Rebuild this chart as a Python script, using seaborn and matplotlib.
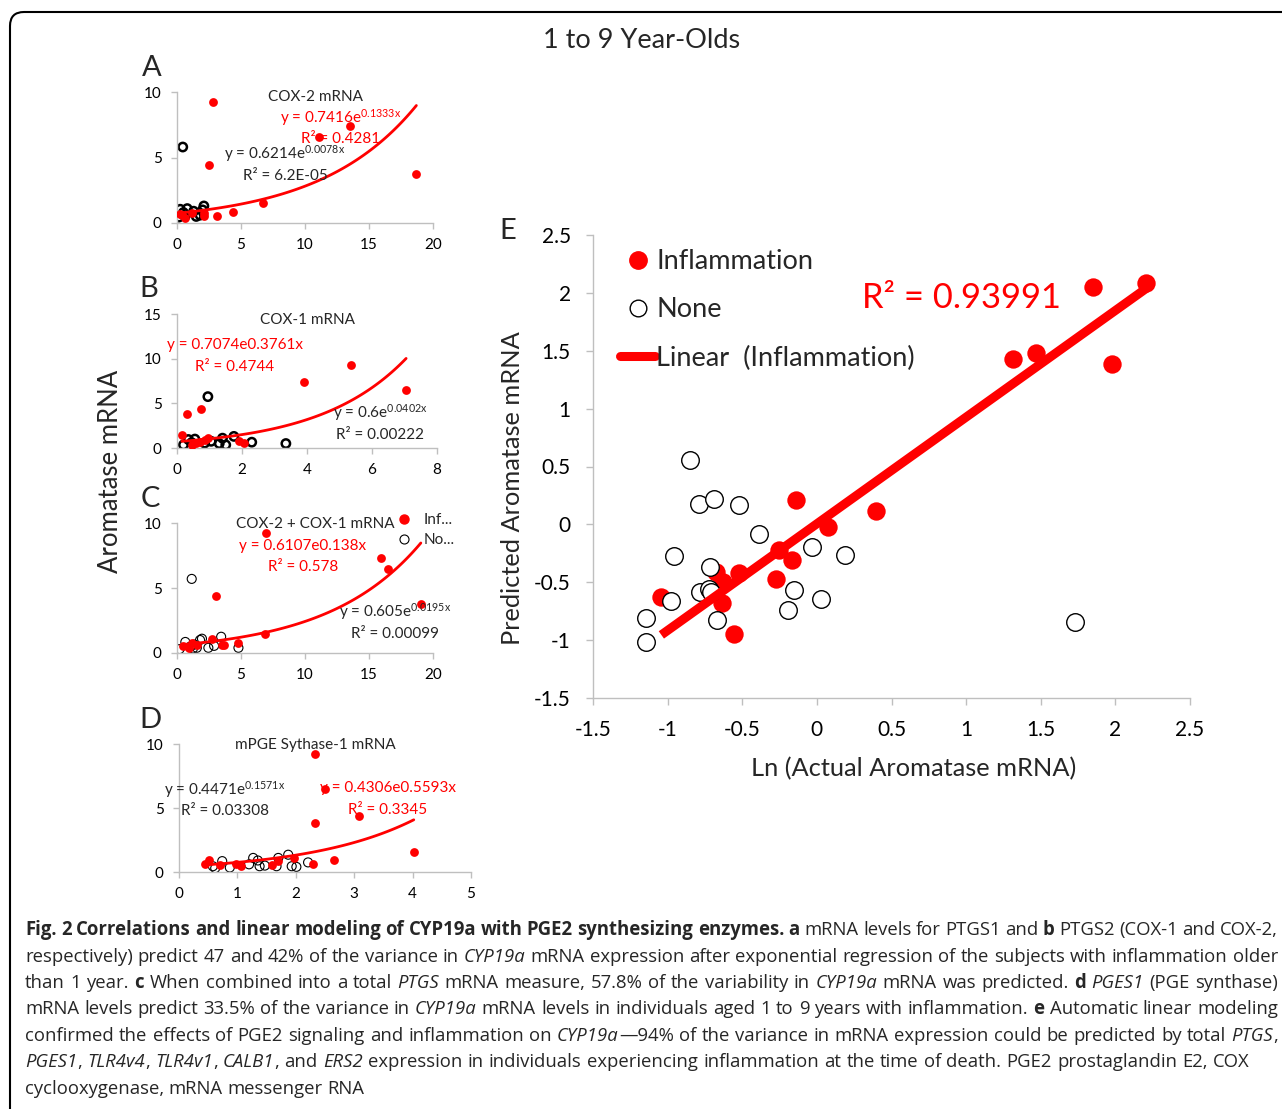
import numpy as np
import pandas as pd
import matplotlib
matplotlib.use("Agg")
import matplotlib.pyplot as plt
import seaborn as sns
from matplotlib.lines import Line2D
from matplotlib.patches import FancyBboxPatch
from matplotlib.transforms import IdentityTransform

# ---------------- data ----------------
A_inf_x = [2.8, 13.5, 11.1, 18.7, 2.5, 6.7, 4.4, 3.1, 0.4, 0.65, 1.2, 2.1, 2.1, 0.2]
A_inf_y = [9.2, 7.4, 6.55, 3.75, 4.4, 1.55, 0.85, 0.5, 0.6, 0.35, 0.75, 0.8, 0.5, 0.7]
A_non_x = [0.45, 0.25, 0.8, 0.65, 1.8, 2.1, 0.15, 1.3, 2.0, 0.5, 1.5]
A_non_y = [5.8, 1.05, 1.1, 0.55, 0.6, 1.3, 0.45, 0.9, 1.0, 0.8, 0.5]

B_inf_x = [0.15, 0.3, 0.75, 3.9, 5.35, 7.05, 0.95, 1.9, 2.05, 0.45, 0.6, 0.85, 0.7]
B_inf_y = [1.5, 3.8, 4.4, 7.35, 9.25, 6.5, 1.1, 0.75, 0.55, 0.35, 0.55, 0.9, 0.7]
B_non_x = [0.95, 0.2, 0.35, 0.55, 0.85, 1.3, 1.4, 1.5, 1.75, 2.3, 3.35, 1.05, 0.45]
B_non_y = [5.75, 0.35, 0.95, 1.0, 0.55, 0.5, 1.1, 0.35, 1.3, 0.65, 0.5, 0.75, 0.6]

C_inf_x = [6.95, 3.05, 15.9, 16.5, 19.05, 6.85, 4.8, 2.7, 3.5, 3.7, 0.5, 0.9, 1.55, 1.15]
C_inf_y = [9.2, 4.4, 7.3, 6.5, 3.8, 1.5, 0.8, 1.1, 0.65, 0.6, 0.55, 0.4, 0.65, 0.75]
C_non_x = [1.15, 0.2, 0.65, 1.35, 1.8, 1.95, 2.45, 2.9, 3.45, 4.8, 1.05, 1.55, 1.25]
C_non_y = [5.7, 0.3, 0.85, 0.65, 1.0, 1.1, 0.4, 0.55, 1.25, 0.4, 0.5, 0.4, 0.35]

D_inf_x = [2.33, 2.5, 3.08, 2.33, 4.02, 2.65, 2.3, 0.45, 0.52, 0.7, 0.98, 1.07, 1.6, 1.7, 1.97]
D_inf_y = [9.25, 6.5, 4.4, 3.8, 1.55, 0.9, 0.65, 0.6, 0.9, 0.55, 0.6, 0.45, 0.55, 0.85, 1.1]
D_non_x = [0.58, 0.74, 0.87, 1.2, 1.27, 1.35, 1.38, 1.47, 1.67, 1.7, 1.87, 1.93, 2.01, 2.21, 0.62]
D_non_y = [0.45, 0.85, 0.35, 0.6, 1.1, 0.9, 0.45, 0.5, 0.45, 1.1, 1.35, 0.45, 0.4, 0.75, 0.3]

# exponential trendline coefficients (y = a * e^(b x)) for inflammation group
A_fit = (0.7416, 0.1333)
B_fit = (0.7074, 0.3761)
C_fit = (0.6107, 0.138)
D_fit = (0.4306, 0.5593)

E_inf_x = [-0.142, 0.076, -0.253, -0.169, -0.271, -0.52, -0.675, -0.63, -0.636, -1.042,
           -0.558, 0.398, 1.853, 2.207, 1.313, 1.469, 1.98]
E_inf_y = [0.208, -0.023, -0.225, -0.312, -0.468, -0.421, -0.41, -0.50, -0.678, -0.629,
           -0.947, 0.113, 2.055, 2.089, 1.426, 1.478, 1.385]
E_non_x = [-0.848, -0.79, -0.687, -0.525, -0.391, -0.955, -0.718, -0.78, -0.72, -0.71,
           -0.98, -1.147, -1.147, -0.667, -0.153, -0.191, 0.027, -0.036, 0.189, 1.729]
E_non_y = [0.554, 0.18, 0.22, 0.17, -0.084, -0.277, -0.364, -0.586, -0.557, -0.586,
           -0.664, -0.805, -1.02, -0.828, -0.569, -0.742, -0.649, -0.193, -0.265, -0.846]

TITLE = "1 to 9 Year-Olds"
PANEL_TITLES = ["COX-2 mRNA", "COX-1 mRNA", "COX-2 + COX-1 mRNA", "mPGE Sythase-1 mRNA"]

CAPTION = [
    [("Fig. 2 Correlations and linear modeling of CYP19a with PGE2 synthesizing enzymes. a", "b"),
     (" mRNA levels for PTGS1 and ", "n"), ("b", "b"), (" PTGS2 (COX-1 and COX-2,", "n")],
    [("respectively) predict 47 and 42% of the variance in ", "n"), ("CYP19a", "i"),
     (" mRNA expression after exponential regression of the subjects with inflammation older", "n")],
    [("than 1 year. ", "n"), ("c", "b"), (" When combined into a total ", "n"), ("PTGS", "i"),
     (" mRNA measure, 57.8% of the variability in ", "n"), ("CYP19a", "i"),
     (" mRNA was predicted. ", "n"), ("d", "b"), (" ", "n"), ("PGES1", "i"), (" (PGE synthase)", "n")],
    [("mRNA levels predict 33.5% of the variance in ", "n"), ("CYP19a", "i"),
     (" mRNA levels in individuals aged 1 to 9 years with inflammation. ", "n"), ("e", "b"),
     (" Automatic linear modeling", "n")],
    [("confirmed the effects of PGE2 signaling and inflammation on ", "n"), ("CYP19a", "i"),
     ("\u201494% of the variance in mRNA expression could be predicted by total ", "n"), ("PTGS", "i"), (",", "n")],
    [("PGES1", "i"), (", ", "n"), ("TLR4v4", "i"), (", ", "n"), ("TLR4v1", "i"), (", ", "n"),
     ("CALB1", "i"), (", and ", "n"), ("ERS2", "i"),
     (" expression in individuals experiencing inflammation at the time of death. PGE2 prostaglandin E2, COX", "n")],
    [("cyclooxygenase, mRNA messenger RNA", "n")],
]

# ---------------- style ----------------
sns.set_theme(style="white")
CH = "Lato"
CAP = "Open Sans"
plt.rcParams['font.family'] = [CH, 'DejaVu Sans']
plt.rcParams['mathtext.fontset'] = 'custom'
plt.rcParams['mathtext.rm'] = CH
plt.rcParams['mathtext.it'] = CH
RED = "#FF0000"
GRAY = "#BFBFBF"
SFS = 11  # small panel text size

W, H = 1282, 1109
fig = plt.figure(figsize=(W / 100, H / 100), dpi=100)


def rect(l, t, r, b):
    return [l / W, 1 - b / H, (r - l) / W, (b - t) / H]


def ftext(x, y, s, **kw):
    kw.setdefault('ha', 'center')
    kw.setdefault('va', 'center')
    return fig.text(x / W, 1 - y / H, s, **kw)


def style_ax(ax, xlim, xticks, ylim, yticks, fs, pad):
    ax.set_xlim(*xlim)
    ax.set_ylim(*ylim)
    ax.set_xticks(xticks)
    ax.set_yticks(yticks)
    ax.set_xticklabels([f"{v:g}" for v in xticks])
    ax.set_yticklabels([f"{v:g}" for v in yticks])
    sns.despine(ax=ax)
    for sp in ("left", "bottom"):
        ax.spines[sp].set_color(GRAY)
        ax.spines[sp].set_linewidth(1.0)
    ax.tick_params(axis='both', bottom=True, left=True, direction='out', length=4, width=1,
                   color=GRAY, labelsize=fs, pad=pad, labelcolor='black')
    ax.set_xlabel("")
    ax.set_ylabel("")
    ax.patch.set_alpha(0)


def small_panel(r, ix, iy, nx, ny, fit, thick, xlim, xticks, ylim, yticks):
    ax = fig.add_axes(r)
    dn = pd.DataFrame({"x": nx, "y": ny})
    di = pd.DataFrame({"x": ix, "y": iy})
    sns.scatterplot(data=dn, x="x", y="y", ax=ax, s=36 if thick else 42, facecolor='none',
                    edgecolor='black', linewidth=1.8 if thick else 0.8, zorder=2)
    sns.scatterplot(data=di, x="x", y="y", ax=ax, s=40, color=RED, edgecolor=RED,
                    linewidth=0, zorder=3)
    xs = np.linspace(min(ix), max(ix), 120)
    a, b = fit
    sns.lineplot(x=xs, y=a * np.exp(b * xs), ax=ax, color=RED, lw=2.0, zorder=4)
    style_ax(ax, xlim, xticks, ylim, yticks, SFS, 7)
    return ax


axA = small_panel(rect(177, 92, 433, 223), A_inf_x, A_inf_y, A_non_x, A_non_y, A_fit, True,
                  (0, 20), [0, 5, 10, 15, 20], (0, 10), [0, 5, 10])
axB = small_panel(rect(177, 314, 437, 448), B_inf_x, B_inf_y, B_non_x, B_non_y, B_fit, True,
                  (0, 8), [0, 2, 4, 6, 8], (0, 15), [0, 5, 10, 15])
axC = small_panel(rect(177, 523, 433, 653), C_inf_x, C_inf_y, C_non_x, C_non_y, C_fit, False,
                  (0, 20), [0, 5, 10, 15, 20], (0, 10), [0, 5, 10])
axD = small_panel(rect(179, 744, 471, 872), D_inf_x, D_inf_y, D_non_x, D_non_y, D_fit, False,
                  (0, 5), [0, 1, 2, 3, 4, 5], (0, 10), [0, 5, 10])

# C legend
hC = [Line2D([], [], marker='o', ls='none', mfc=RED, mec=RED, ms=6.5),
      Line2D([], [], marker='o', ls='none', mfc='white', mec='black', mew=0.8, ms=6.5)]
fig.legend(hC, ["Inf...", "No..."], loc='upper left', bbox_to_anchor=(396 / W, 1 - 513 / H),
           frameon=False, fontsize=SFS, handlelength=1.1, handletextpad=0.7,
           labelspacing=0.4, borderpad=0, borderaxespad=0)

# ---------------- panel E ----------------
axE = fig.add_axes(rect(593, 235, 1190, 698))
dEi = pd.DataFrame({"x": E_inf_x, "y": E_inf_y})
dEn = pd.DataFrame({"x": E_non_x, "y": E_non_y})
sns.scatterplot(data=dEi, x="x", y="y", ax=axE, s=175, color=RED, edgecolor=RED, linewidth=0, zorder=2)
sns.scatterplot(data=dEn, x="x", y="y", ax=axE, s=160, facecolor='white', edgecolor='black',
                linewidth=1.0, zorder=3)
sns.regplot(data=dEi, x="x", y="y", ax=axE, scatter=False, ci=None, color=RED,
            line_kws=dict(lw=6.5, solid_capstyle='butt', zorder=4))
ticksE = [-1.5, -1, -0.5, 0, 0.5, 1, 1.5, 2, 2.5]
style_ax(axE, (-1.5, 2.5), ticksE, (-1.5, 2.5), ticksE, 15, 11)
axE.tick_params(length=5)

hE = [Line2D([], [], marker='o', ls='none', mfc=RED, mec=RED, ms=12.5),
      Line2D([], [], marker='o', ls='none', mfc='white', mec='black', mew=1.0, ms=12),
      Line2D([], [], color=RED, lw=6.5, solid_capstyle='round')]
fig.legend(hE, ["Inflammation", "None", "Linear  (Inflammation)"], loc='upper left',
           bbox_to_anchor=(620 / W, 1 - 249 / H), frameon=False, fontsize=19.5,
           handlelength=1.3, handletextpad=0.03, labelspacing=0.86, borderpad=0, borderaxespad=0)

# ---------------- texts ----------------
ftext(642, 40, TITLE, fontsize=19.5)
for lab, (x, y) in zip("ABCDE", [(152, 68), (149, 289), (150, 499), (150, 720), (508, 231)]):
    ftext(x, y, lab, fontsize=21)
ftext(110, 471, "Aromatase mRNA", fontsize=18.5, rotation=90)

ftext(315, 97, PANEL_TITLES[0], fontsize=SFS)
ftext(341, 118, r"y = 0.7416e$^{\mathrm{0.1333x}}$", fontsize=SFS, color=RED)
ftext(341, 139, "R² = 0.4281", fontsize=SFS, color=RED)
ftext(285, 154, r"y = 0.6214e$^{\mathrm{0.0078x}}$", fontsize=SFS)
ftext(285, 176, "R² = 6.2E-05", fontsize=SFS)

ftext(307, 320, PANEL_TITLES[1], fontsize=SFS)
ftext(235, 345, "y = 0.7074e0.3761x", fontsize=SFS, color=RED)
ftext(235, 367, "R² = 0.4744", fontsize=SFS, color=RED)
ftext(380, 413, r"y = 0.6e$^{\mathrm{0.0402x}}$", fontsize=SFS)
ftext(380, 435, "R² = 0.00222", fontsize=SFS)

ftext(315, 524, PANEL_TITLES[2], fontsize=SFS)
ftext(303, 546, "y = 0.6107e0.138x", fontsize=SFS, color=RED)
ftext(303, 567, "R² = 0.578", fontsize=SFS, color=RED)
ftext(395, 612, r"y = 0.605e$^{\mathrm{0.0195x}}$", fontsize=SFS)
ftext(395, 634, "R² = 0.00099", fontsize=SFS)

ftext(315, 745, PANEL_TITLES[3], fontsize=SFS)
ftext(225, 790, r"y = 0.4471e$^{\mathrm{0.1571x}}$", fontsize=SFS)
ftext(225, 811, "R² = 0.03308", fontsize=SFS)
ftext(388, 788, "y = 0.4306e0.5593x", fontsize=SFS, color=RED)
ftext(388, 810, "R² = 0.3345", fontsize=SFS, color=RED)

ftext(512, 488, "Predicted Aromatase mRNA", fontsize=18.3, rotation=90)
ftext(914, 769, "Ln (Actual Aromatase mRNA)", fontsize=18.3)
ftext(962, 298, "R² = 0.93991", fontsize=24.8, color=RED)

# border
fig.patches.append(FancyBboxPatch((10, -40), 1320, H - 12 + 40, boxstyle="round,pad=0,rounding_size=14",
                                  transform=IdentityTransform(), fill=False, ec='black', lw=1.5,
                                  figure=fig))

# ---------------- caption (justified) ----------------
renderer = fig.canvas.get_renderer()
STY = {'n': {}, 'b': {'fontweight': 'bold'}, 'i': {'fontstyle': 'italic'}}


def measure(s, st, fs):
    t = fig.text(0, 0, s, fontsize=fs, family=[CAP, 'DejaVu Sans'], **STY[st])
    w = t.get_window_extent(renderer).width
    t.remove()
    return w


cal = measure("cyclooxygenase, mRNA messenger RNA", 'n', 10)
CFS = 10 * 340 / cal
space_w = measure("a a", 'n', CFS) - measure("aa", 'n', CFS)

baselines = [935, 962, 988, 1014, 1041, 1067, 1094]
rights = [1278, 1278, 1278, 1278, 1278, 1250, None]
for segs, yb, right in zip(CAPTION, baselines, rights):
    words = [[]]
    for txt, st in segs:
        parts = txt.split(' ')
        for k, p in enumerate(parts):
            if k > 0 and words[-1]:
                words.append([])
            if p:
                words[-1].append((p, st))
    if not words[-1]:
        words.pop()
    widths = [[measure(p, st, CFS) for p, st in w] for w in words]
    tot = sum(sum(ws) for ws in widths)
    gap = space_w if right is None else (right - 25 - tot) / (len(words) - 1)
    x = 25.0
    for w, ws in zip(words, widths):
        for (p, st), pw in zip(w, ws):
            fig.text(x / W, 1 - yb / H, p, fontsize=CFS, family=[CAP, 'DejaVu Sans'],
                     ha='left', va='baseline', **STY[st])
            x += pw
        x += gap

fig.savefig("out.png", dpi=100)
